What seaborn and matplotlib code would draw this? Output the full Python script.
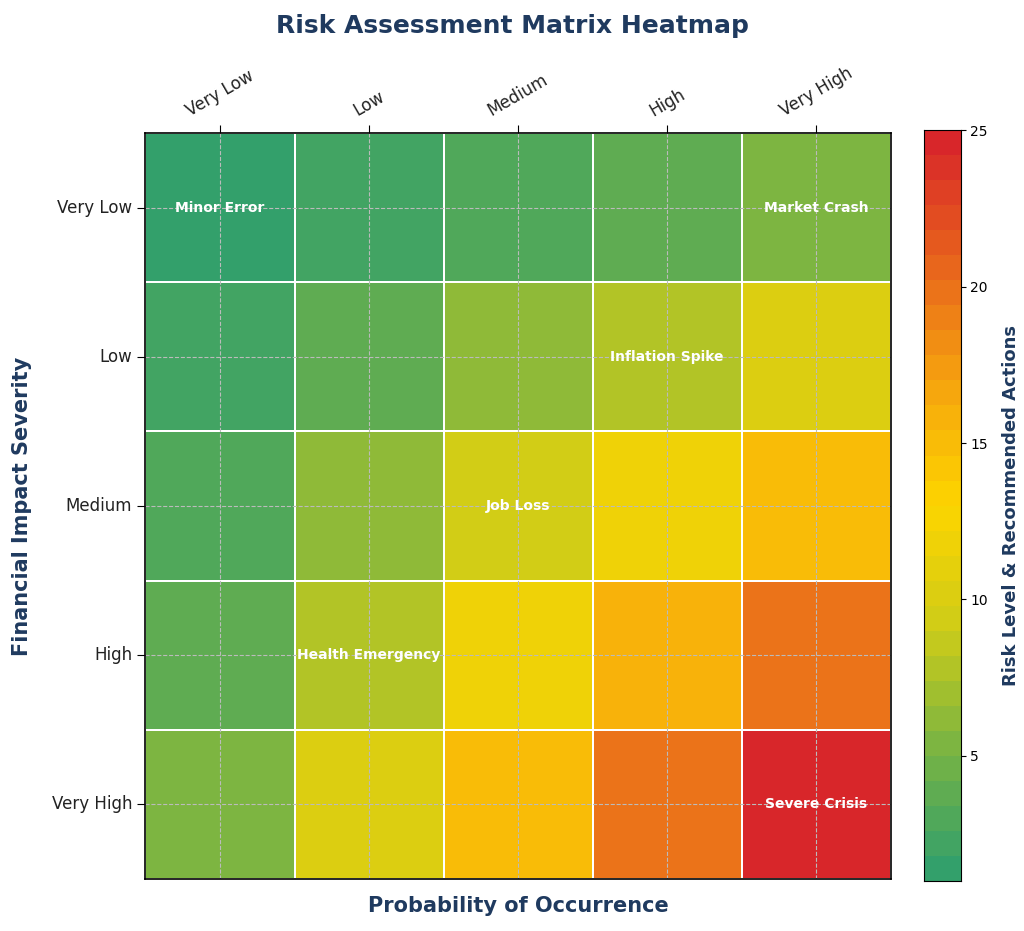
import matplotlib
matplotlib.use("Agg")
import matplotlib.pyplot as plt
import numpy as np
import pandas as pd
import seaborn as sb
from matplotlib.colors import LinearSegmentedColormap

levels = ["Very Low", "Low", "Medium", "High", "Very High"]
# risk score = probability x impact, rows = impact, cols = probability
risk = [
    [1, 2, 3, 4, 5],
    [2, 4, 6, 8, 10],
    [3, 6, 9, 12, 15],
    [4, 8, 12, 16, 20],
    [5, 10, 15, 20, 25],
]
events = {
    ("Very Low", "Very Low"): "Minor Error",
    ("Very Low", "Very High"): "Market Crash",
    ("Low", "High"): "Inflation Spike",
    ("Medium", "Medium"): "Job Loss",
    ("High", "Low"): "Health Emergency",
    ("Very High", "Very High"): "Severe Crisis",
}

df = pd.DataFrame(risk, index=levels, columns=levels)
cmap = LinearSegmentedColormap.from_list(
    "risk", ["#33a06b", "#7ab442", "#cfcc18", "#fdd500", "#f6a40e", "#e8641c", "#d8262a"], N=30)

annot = np.full(df.shape, "", dtype=object)
for (r, c), name in events.items():
    annot[levels.index(r), levels.index(c)] = name

fig = plt.figure(figsize=(10.24, 9.31), dpi=100)
ax = fig.add_axes([0.142, 0.056, 0.728, 0.801])
cax = fig.add_axes([0.902, 0.054, 0.036, 0.806])
sb.heatmap(df, ax=ax, cbar_ax=cax, cmap=cmap, vmin=1, vmax=25,
           annot=annot, fmt="", linewidths=1.2, linecolor="white",
           annot_kws={"color": "white", "fontweight": "bold", "fontsize": 10})

ax.xaxis.tick_top()
ax.set_xticklabels(levels, rotation=30, fontsize=12, color="#222222")
ax.set_yticklabels(levels, rotation=0, fontsize=12, color="#222222")
ax.tick_params(length=6)
for x in np.arange(0.5, 5, 1):
    ax.axvline(x, color="#bbbbbb", ls="--", lw=0.8)
    ax.axhline(x, color="#bbbbbb", ls="--", lw=0.8)
for s in ax.spines.values():
    s.set_visible(True)
    s.set_color("black")
    s.set_linewidth(1.2)

ax.set_xlabel("Probability of Occurrence", fontsize=15, fontweight="bold", color="#1f3a5f", labelpad=12)
ax.xaxis.set_label_position("bottom")
ax.set_ylabel("Financial Impact Severity", fontsize=15, fontweight="bold", color="#1f3a5f", labelpad=14)
fig.suptitle("Risk Assessment Matrix Heatmap", fontsize=18, fontweight="bold", color="#1f3a5f", y=0.985)

cax.set_yticks([5, 10, 15, 20, 25])
cax.tick_params(labelsize=10)
for s in cax.spines.values():
    s.set_visible(True)
    s.set_color("black")
cax.set_ylabel("Risk Level & Recommended Actions", fontsize=13, fontweight="bold", color="#1f3a5f", labelpad=10)

fig.savefig("out.png", dpi=100)
